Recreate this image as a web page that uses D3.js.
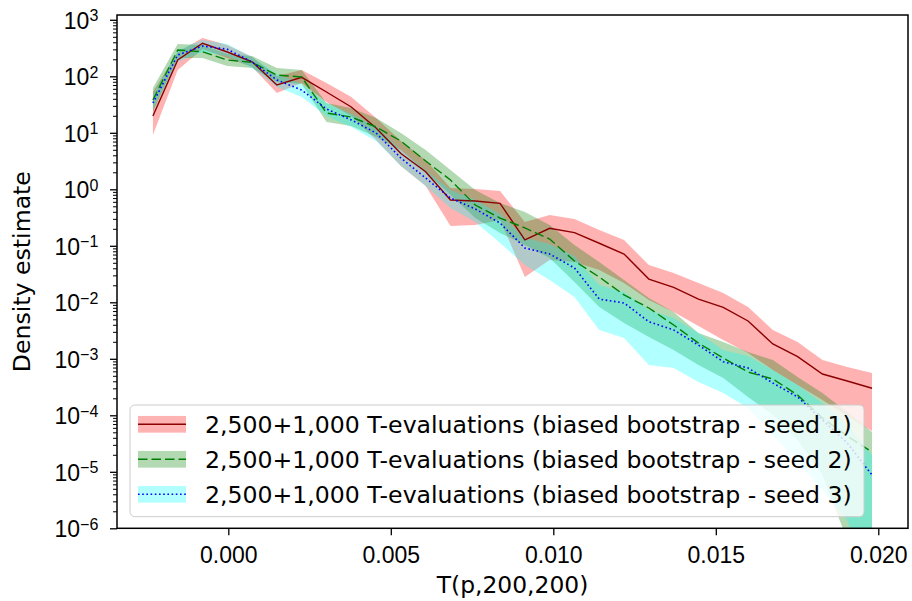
<!DOCTYPE html>
<html><head><meta charset="utf-8">
<script src="https://cdn.jsdelivr.net/npm/d3@7"></script>
<style>
body{margin:0;background:#fff;}
svg{display:block;font-family:"DejaVu Sans",sans-serif;}
</style></head>
<body>
<svg id="chart" width="912" height="601"></svg>
<script>
// ---- data ----
const xs = [-0.00232,-0.001557,-0.000794,-0.000031,0.000732,0.001495,0.002258,0.003021,0.003784,0.004547,
  0.00531,0.006073,0.006836,0.007599,0.008362,0.009125,0.009888,0.010651,0.011414,0.012177,
  0.01294,0.013703,0.014466,0.015229,0.015992,0.016755,0.017518,0.018281,0.019044,0.019807];

const redMean  = [19.8,194,384,269,181,70.2,96,52.7,28.6,12.2,4.30,2.05,0.647,0.621,0.565,0.127,0.204,0.171,0.111,0.0716,
  0.0258,0.0184,0.0114,0.00816,0.00467,0.00183,0.00109,0.000538,0.000405,0.000301];
const redUpper = [52.7,269,476,358,220,101,129,76.1,43.0,18.3,7.16,3.30,1.05,1.01,0.933,0.264,0.351,0.298,0.190,0.127,
  0.0457,0.0330,0.0220,0.0146,0.00826,0.00324,0.00198,0.000952,0.000716,0.000561];
const redLower = [9.14,129,304,211,146,50.6,76.1,35.1,19.8,7.46,2.58,1.14,0.224,0.233,0.286,0.0280,0.0561,0.0517,0.0373,0.0220,
  0.0110,0.00673,0.00381,0.00215,0.00127,0.000634,0.000344,0.000187,0.0000973,0.0000527];

const greenMean  = [38.1,292,272,194,177,105,97.2,22.4,19.0,12.7,7.16,3.17,1.46,0.527,0.310,0.207,0.132,0.0538,0.0280,0.0135,
  0.00793,0.00397,0.00190,0.00103,0.000584,0.000439,0.000229,0.0000896,0.0000430,0.0000224];
const greenUpper = [62.1,373,358,248,229,140,129,33.7,27.5,18.3,9.92,4.96,2.20,0.972,0.572,0.397,0.233,0.103,0.0517,0.0248,
  0.0119,0.00673,0.00286,0.00198,0.00132,0.000952,0.000476,0.000248,0.000114,0.0000506];
const greenLower = [23.3,211,211,152,140,79.3,73.1,15.5,13.2,8.43,4.96,2.02,0.793,0.310,0.169,0.103,0.0608,0.0229,0.00826,0.00430,
  0.00243,0.00143,0.000777,0.000457,0.000211,0.000101,0.0000366,0.00000877,0.00000062,0.00000001];

const blueMean  = [33.7,238,344,301,179,86.0,57.2,26.4,16.9,9.92,3.58,1.58,0.701,0.448,0.253,0.0914,0.0716,0.0405,0.0114,0.00972,
  0.00454,0.00324,0.00175,0.000889,0.000687,0.000373,0.000211,0.0000826,0.0000324,0.00000877];
const blueUpper = [46.7,292,439,373,220,110,73.1,33.7,21.5,13.2,4.96,2.20,0.972,0.647,0.366,0.137,0.108,0.0660,0.0202,0.0152,
  0.00731,0.00527,0.00286,0.00143,0.00112,0.000634,0.000344,0.000165,0.0000673,0.0000198];
const blueLower = [25.3,179,269,229,140,64.7,43.0,19.8,12.7,7.16,2.58,1.14,0.467,0.264,0.112,0.0457,0.0248,0.0124,0.00324,0.00233,
  0.000777,0.000687,0.000388,0.000248,0.000135,0.0000448,0.0000149,0.00000476,0.0000014,0.000000054];

const xTicks = [0, 0.005, 0.010, 0.015, 0.020];
const yExps = [3,2,1,0,-1,-2,-3,-4,-5,-6];
const legendLabels = [
  "2,500+1,000 T-evaluations (biased bootstrap - seed 1)",
  "2,500+1,000 T-evaluations (biased bootstrap - seed 2)",
  "2,500+1,000 T-evaluations (biased bootstrap - seed 3)"
];

// ---- layout ----
const L = 117, R = 908, T = 15, B = 528.3;
const svg = d3.select("#chart");
const x = d3.scaleLinear().domain([-0.003425, 0.020914]).range([L, R]);
const y = d3.scaleLog().domain([1e-6, Math.pow(10, 3.085)]).range([B, T]);

const series = [
  {mean: redMean, lo: redLower, hi: redUpper, fill: "red", stroke: "darkred", dash: null, w: 1.4},
  {mean: greenMean, lo: greenLower, hi: greenUpper, fill: "green", stroke: "green", dash: "9.5,4", w: 1.4},
  {mean: blueMean, lo: blueLower, hi: blueUpper, fill: "cyan", stroke: "blue", dash: "1.6,2.6", w: 1.6}
];

svg.append("defs").append("clipPath").attr("id","clip")
  .append("rect").attr("x",L).attr("y",T).attr("width",R-L).attr("height",B-T);

const plot = svg.append("g").attr("clip-path","url(#clip)");

series.forEach(s => {
  const area = d3.area()
    .x((d,i) => x(xs[i]))
    .y0((d,i) => y(Math.max(s.lo[i], 1e-9)))
    .y1((d,i) => y(s.hi[i]));
  plot.append("path").datum(xs).attr("d", area)
    .attr("fill", s.fill).attr("fill-opacity", 0.3).attr("stroke","none");
});
series.forEach(s => {
  const line = d3.line().x((d,i) => x(xs[i])).y((d,i) => y(s.mean[i]));
  plot.append("path").datum(xs).attr("d", line)
    .attr("fill","none").attr("stroke", s.stroke).attr("stroke-width", s.w)
    .attr("stroke-dasharray", s.dash);
});

// ---- axes ----
const fs = 23;
const xAxis = d3.axisBottom(x).tickValues(xTicks).tickSize(7).tickFormat("");
const gx = svg.append("g").attr("transform",`translate(0,${B})`).call(xAxis);
gx.select(".domain").remove();
gx.selectAll(".tick line").attr("stroke","#000").attr("stroke-width",1.3);
gx.selectAll(".tick").append("text")
  .attr("y", 35).attr("text-anchor","middle").attr("fill","#000")
  .style("font-size", fs+"px")
  .text(d => d3.format(".3f")(d));

const yAxis = d3.axisLeft(y).tickValues(yExps.map(e => Math.pow(10,e))).tickSize(7).tickFormat("");
const gy = svg.append("g").attr("transform",`translate(${L},0)`).call(yAxis);
gy.select(".domain").remove();
gy.selectAll(".tick line").attr("stroke","#000").attr("stroke-width",1.3);
gy.selectAll(".tick").each(function(d, i){
  const e = yExps[i];
  const t = d3.select(this).append("text")
    .attr("x",-18.7).attr("y",8.3).attr("text-anchor","end").attr("fill","#000")
    .style("font-size", fs+"px");
  t.append("tspan").text("10");
  t.append("tspan").attr("dy",-7.6).style("font-size","16px")
    .text(e < 0 ? "\u2212" + Math.abs(e) : String(e));
});

const minorVals = [];
for (let e = -6; e < 4; e++) for (let m = 2; m <= 9; m++) {
  const v = m * Math.pow(10, e);
  if (v <= y.domain()[1]) minorVals.push(v);
}
const yMinor = d3.axisLeft(y).tickValues(minorVals).tickSize(4).tickFormat("");
const gym = svg.append("g").attr("transform",`translate(${L},0)`).call(yMinor);
gym.select(".domain").remove();
gym.selectAll(".tick line").attr("stroke","#000").attr("stroke-width",1);

// frame
svg.append("rect").attr("x",L).attr("y",T).attr("width",R-L).attr("height",B-T)
  .attr("fill","none").attr("stroke","#000").attr("stroke-width",1.5);

// labels
svg.append("text").attr("x",(L+R)/2).attr("y",593).attr("text-anchor","middle")
  .style("font-size", "23.4px").text("T(p,200,200)");
svg.append("text").attr("transform",`translate(30,${(T+B)/2}) rotate(-90)`)
  .attr("text-anchor","middle").style("font-size", "23.6px").text("Density estimate");

// ---- legend ----
const lg = svg.append("g");
lg.append("rect").attr("x",130).attr("y",405).attr("width",734).attr("height",111.7)
  .attr("rx",4.6).attr("fill","#fff").attr("fill-opacity",0.8)
  .attr("stroke","#cccccc").attr("stroke-width",1);
series.forEach((s,i) => {
  const cy = 424.3 + i*35;
  lg.append("rect").attr("x",138).attr("y",cy-8.35).attr("width",48).attr("height",16.7)
    .attr("fill", s.fill).attr("fill-opacity",0.3);
  lg.append("line").attr("x1",138).attr("x2",186).attr("y1",cy).attr("y2",cy)
    .attr("stroke", s.stroke).attr("stroke-width", s.w).attr("stroke-dasharray", s.dash);
  lg.append("text").attr("x",205).attr("y",cy+9).style("font-size", "23.6px")
    .text(legendLabels[i]);
});
</script>
</body></html>
